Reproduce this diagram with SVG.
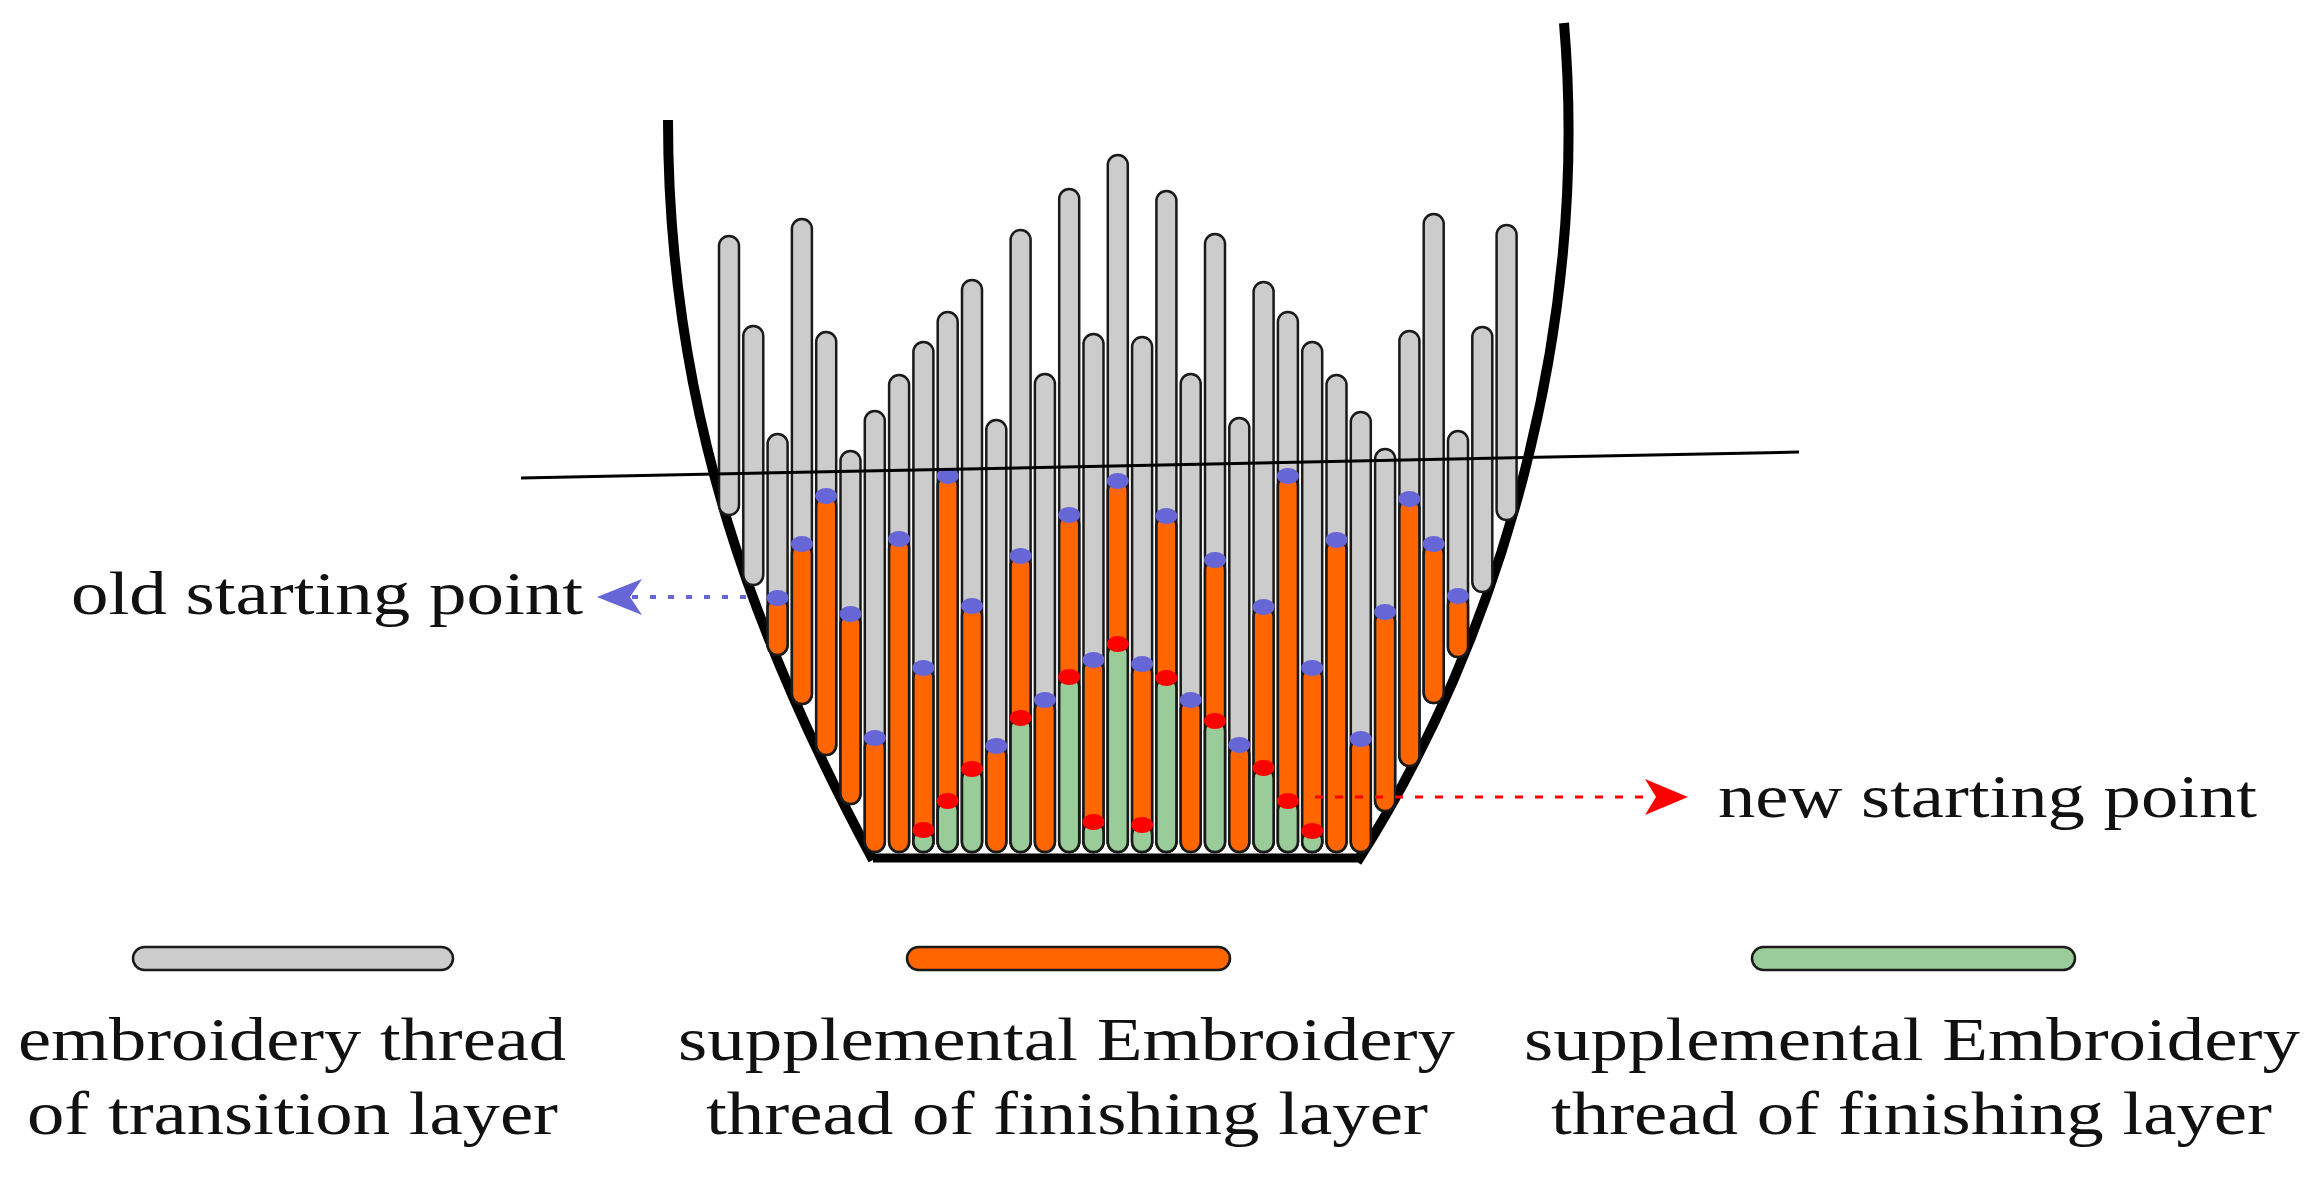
<svg xmlns="http://www.w3.org/2000/svg" width="2316" height="1185" viewBox="0 0 2316 1185">
<style>
.g{fill:#cccccc;stroke:#1a1a1a;stroke-width:2.5}
.o{fill:#ff6600;stroke:#1a1a1a;stroke-width:2.5}
.n{fill:#99cc99;stroke:#1a1a1a;stroke-width:2.5}
.b{fill:#6666d6}
.r{fill:#ff0000}
.t{font-family:"Liberation Serif","Times New Roman",Times,serif;font-size:62px;fill:#111}
</style>
<rect width="2316" height="1185" fill="#fff"/>
<g id="bowl" fill="none" stroke="#000">
<path d="M668,120 C668,420 760,650 873,860" stroke-width="10"/>
<path d="M1564,23 C1590,330 1500,640 1357,862" stroke-width="10"/>
<line x1="873" y1="858" x2="1357" y2="858" stroke-width="9"/>
</g>
<g id="bar0" transform="translate(729,0)"><rect class="g" x="-10" y="236" width="20" height="279" rx="10"/></g>
<g id="bar1" transform="translate(753.3,0)"><rect class="g" x="-10" y="326" width="20" height="259" rx="10"/></g>
<g id="bar2" transform="translate(777.6,0)"><rect class="g" x="-10" y="434" width="20" height="221" rx="10"/><rect class="o" x="-10" y="598" width="20" height="57" rx="10"/><ellipse class="b" cx="0" cy="598" rx="11" ry="8"/></g>
<g id="bar3" transform="translate(801.9,0)"><rect class="g" x="-10" y="219" width="20" height="485" rx="10"/><rect class="o" x="-10" y="544" width="20" height="160" rx="10"/><ellipse class="b" cx="0" cy="544" rx="11" ry="8"/></g>
<g id="bar4" transform="translate(826.2,0)"><rect class="g" x="-10" y="332" width="20" height="423" rx="10"/><rect class="o" x="-10" y="496" width="20" height="259" rx="10"/><ellipse class="b" cx="0" cy="496" rx="11" ry="8"/></g>
<g id="bar5" transform="translate(850.5,0)"><rect class="g" x="-10" y="451" width="20" height="353" rx="10"/><rect class="o" x="-10" y="614" width="20" height="190" rx="10"/><ellipse class="b" cx="0" cy="614" rx="11" ry="8"/></g>
<g id="bar6" transform="translate(874.8,0)"><rect class="g" x="-10" y="411" width="20" height="441" rx="10"/><rect class="o" x="-10" y="738" width="20" height="114" rx="10"/><ellipse class="b" cx="0" cy="738" rx="11" ry="8"/></g>
<g id="bar7" transform="translate(899.1,0)"><rect class="g" x="-10" y="375" width="20" height="477" rx="10"/><rect class="o" x="-10" y="539" width="20" height="313" rx="10"/><ellipse class="b" cx="0" cy="539" rx="11" ry="8"/></g>
<g id="bar8" transform="translate(923.4,0)"><rect class="g" x="-10" y="342" width="20" height="510" rx="10"/><rect class="o" x="-10" y="668" width="20" height="184" rx="10"/><rect class="n" x="-10" y="830" width="20" height="22" rx="10"/><ellipse class="b" cx="0" cy="668" rx="11" ry="8"/><ellipse class="r" cx="0" cy="830" rx="11" ry="8"/></g>
<g id="bar9" transform="translate(947.7,0)"><rect class="g" x="-10" y="312" width="20" height="540" rx="10"/><rect class="o" x="-10" y="476" width="20" height="376" rx="10"/><rect class="n" x="-10" y="801" width="20" height="51" rx="10"/><ellipse class="b" cx="0" cy="476" rx="11" ry="8"/><ellipse class="r" cx="0" cy="801" rx="11" ry="8"/></g>
<g id="bar10" transform="translate(972,0)"><rect class="g" x="-10" y="280" width="20" height="572" rx="10"/><rect class="o" x="-10" y="606" width="20" height="246" rx="10"/><rect class="n" x="-10" y="769" width="20" height="83" rx="10"/><ellipse class="b" cx="0" cy="606" rx="11" ry="8"/><ellipse class="r" cx="0" cy="769" rx="11" ry="8"/></g>
<g id="bar11" transform="translate(996.3,0)"><rect class="g" x="-10" y="420" width="20" height="432" rx="10"/><rect class="o" x="-10" y="746" width="20" height="106" rx="10"/><ellipse class="b" cx="0" cy="746" rx="11" ry="8"/></g>
<g id="bar12" transform="translate(1020.6,0)"><rect class="g" x="-10" y="230" width="20" height="622" rx="10"/><rect class="o" x="-10" y="556" width="20" height="296" rx="10"/><rect class="n" x="-10" y="718" width="20" height="134" rx="10"/><ellipse class="b" cx="0" cy="556" rx="11" ry="8"/><ellipse class="r" cx="0" cy="718" rx="11" ry="8"/></g>
<g id="bar13" transform="translate(1044.9,0)"><rect class="g" x="-10" y="374" width="20" height="478" rx="10"/><rect class="o" x="-10" y="700" width="20" height="152" rx="10"/><ellipse class="b" cx="0" cy="700" rx="11" ry="8"/></g>
<g id="bar14" transform="translate(1069.2,0)"><rect class="g" x="-10" y="189" width="20" height="663" rx="10"/><rect class="o" x="-10" y="515" width="20" height="337" rx="10"/><rect class="n" x="-10" y="677" width="20" height="175" rx="10"/><ellipse class="b" cx="0" cy="515" rx="11" ry="8"/><ellipse class="r" cx="0" cy="677" rx="11" ry="8"/></g>
<g id="bar15" transform="translate(1093.5,0)"><rect class="g" x="-10" y="334" width="20" height="518" rx="10"/><rect class="o" x="-10" y="660" width="20" height="192" rx="10"/><rect class="n" x="-10" y="822" width="20" height="30" rx="10"/><ellipse class="b" cx="0" cy="660" rx="11" ry="8"/><ellipse class="r" cx="0" cy="822" rx="11" ry="8"/></g>
<g id="bar16" transform="translate(1117.8,0)"><rect class="g" x="-10" y="155" width="20" height="697" rx="10"/><rect class="o" x="-10" y="481" width="20" height="371" rx="10"/><rect class="n" x="-10" y="644" width="20" height="208" rx="10"/><ellipse class="b" cx="0" cy="481" rx="11" ry="8"/><ellipse class="r" cx="0" cy="644" rx="11" ry="8"/></g>
<g id="bar17" transform="translate(1142.1,0)"><rect class="g" x="-10" y="337" width="20" height="515" rx="10"/><rect class="o" x="-10" y="664" width="20" height="188" rx="10"/><rect class="n" x="-10" y="825" width="20" height="27" rx="10"/><ellipse class="b" cx="0" cy="664" rx="11" ry="8"/><ellipse class="r" cx="0" cy="825" rx="11" ry="8"/></g>
<g id="bar18" transform="translate(1166.4,0)"><rect class="g" x="-10" y="191" width="20" height="661" rx="10"/><rect class="o" x="-10" y="516" width="20" height="336" rx="10"/><rect class="n" x="-10" y="678" width="20" height="174" rx="10"/><ellipse class="b" cx="0" cy="516" rx="11" ry="8"/><ellipse class="r" cx="0" cy="678" rx="11" ry="8"/></g>
<g id="bar19" transform="translate(1190.7,0)"><rect class="g" x="-10" y="374" width="20" height="478" rx="10"/><rect class="o" x="-10" y="700" width="20" height="152" rx="10"/><ellipse class="b" cx="0" cy="700" rx="11" ry="8"/></g>
<g id="bar20" transform="translate(1215,0)"><rect class="g" x="-10" y="234" width="20" height="618" rx="10"/><rect class="o" x="-10" y="560" width="20" height="292" rx="10"/><rect class="n" x="-10" y="721" width="20" height="131" rx="10"/><ellipse class="b" cx="0" cy="560" rx="11" ry="8"/><ellipse class="r" cx="0" cy="721" rx="11" ry="8"/></g>
<g id="bar21" transform="translate(1239.3,0)"><rect class="g" x="-10" y="418" width="20" height="434" rx="10"/><rect class="o" x="-10" y="745" width="20" height="107" rx="10"/><ellipse class="b" cx="0" cy="745" rx="11" ry="8"/></g>
<g id="bar22" transform="translate(1263.6,0)"><rect class="g" x="-10" y="282" width="20" height="570" rx="10"/><rect class="o" x="-10" y="607" width="20" height="245" rx="10"/><rect class="n" x="-10" y="768" width="20" height="84" rx="10"/><ellipse class="b" cx="0" cy="607" rx="11" ry="8"/><ellipse class="r" cx="0" cy="768" rx="11" ry="8"/></g>
<g id="bar23" transform="translate(1287.9,0)"><rect class="g" x="-10" y="312" width="20" height="540" rx="10"/><rect class="o" x="-10" y="476" width="20" height="376" rx="10"/><rect class="n" x="-10" y="801" width="20" height="51" rx="10"/><ellipse class="b" cx="0" cy="476" rx="11" ry="8"/><ellipse class="r" cx="0" cy="801" rx="11" ry="8"/></g>
<g id="bar24" transform="translate(1312.2,0)"><rect class="g" x="-10" y="342" width="20" height="510" rx="10"/><rect class="o" x="-10" y="668" width="20" height="184" rx="10"/><rect class="n" x="-10" y="831" width="20" height="21" rx="10"/><ellipse class="b" cx="0" cy="668" rx="11" ry="8"/><ellipse class="r" cx="0" cy="831" rx="11" ry="8"/></g>
<g id="bar25" transform="translate(1336.5,0)"><rect class="g" x="-10" y="375" width="20" height="477" rx="10"/><rect class="o" x="-10" y="540" width="20" height="312" rx="10"/><ellipse class="b" cx="0" cy="540" rx="11" ry="8"/></g>
<g id="bar26" transform="translate(1360.8,0)"><rect class="g" x="-10" y="412" width="20" height="440" rx="10"/><rect class="o" x="-10" y="739" width="20" height="113" rx="10"/><ellipse class="b" cx="0" cy="739" rx="11" ry="8"/></g>
<g id="bar27" transform="translate(1385.1,0)"><rect class="g" x="-10" y="449" width="20" height="362" rx="10"/><rect class="o" x="-10" y="612" width="20" height="199" rx="10"/><ellipse class="b" cx="0" cy="612" rx="11" ry="8"/></g>
<g id="bar28" transform="translate(1409.4,0)"><rect class="g" x="-10" y="331" width="20" height="435" rx="10"/><rect class="o" x="-10" y="499" width="20" height="267" rx="10"/><ellipse class="b" cx="0" cy="499" rx="11" ry="8"/></g>
<g id="bar29" transform="translate(1433.7,0)"><rect class="g" x="-10" y="214" width="20" height="489" rx="10"/><rect class="o" x="-10" y="544" width="20" height="159" rx="10"/><ellipse class="b" cx="0" cy="544" rx="11" ry="8"/></g>
<g id="bar30" transform="translate(1458,0)"><rect class="g" x="-10" y="431" width="20" height="226" rx="10"/><rect class="o" x="-10" y="596" width="20" height="61" rx="10"/><ellipse class="b" cx="0" cy="596" rx="11" ry="8"/></g>
<g id="bar31" transform="translate(1482.3,0)"><rect class="g" x="-10" y="327" width="20" height="265" rx="10"/></g>
<g id="bar32" transform="translate(1506.6,0)"><rect class="g" x="-10" y="225" width="20" height="295" rx="10"/></g>
<g id="connectors">
<line x1="521" y1="478" x2="1799" y2="452" stroke="#000" stroke-width="3"/>
<line x1="746" y1="597" x2="632" y2="597" stroke="#6666d6" stroke-width="4" stroke-dasharray="6,12"/>
<polygon points="597,597 642,579 630,597 642,615" fill="#6666d6"/>
<line x1="1315" y1="797" x2="1655" y2="797" stroke="#ff0000" stroke-width="3" stroke-dasharray="8,12"/>
<polygon points="1688,797 1645,779 1656,797 1645,815" fill="#ff0000"/>
</g>
<g id="label-old"><text class="t" x="71" y="614" textLength="512" lengthAdjust="spacingAndGlyphs">old starting point</text></g>
<g id="label-new"><text class="t" x="1718" y="817" textLength="539" lengthAdjust="spacingAndGlyphs">new starting point</text></g>
<g id="legend-gray"><rect class="g" x="133" y="947" width="320" height="23" rx="11.5"/>
<text class="t" x="18" y="1060" textLength="548" lengthAdjust="spacingAndGlyphs">embroidery thread</text>
<text class="t" x="27" y="1134" textLength="531" lengthAdjust="spacingAndGlyphs">of transition layer</text></g>
<g id="legend-orange"><rect class="o" x="907" y="947" width="323" height="23" rx="11.5"/>
<text class="t" x="678" y="1060" textLength="777" lengthAdjust="spacingAndGlyphs">supplemental Embroidery</text>
<text class="t" x="706" y="1134" textLength="722" lengthAdjust="spacingAndGlyphs">thread of finishing layer</text></g>
<g id="legend-green"><rect class="n" x="1752" y="947" width="323" height="23" rx="11.5"/>
<text class="t" x="1524" y="1060" textLength="776" lengthAdjust="spacingAndGlyphs">supplemental Embroidery</text>
<text class="t" x="1551" y="1134" textLength="721" lengthAdjust="spacingAndGlyphs">thread of finishing layer</text></g>
</svg>
